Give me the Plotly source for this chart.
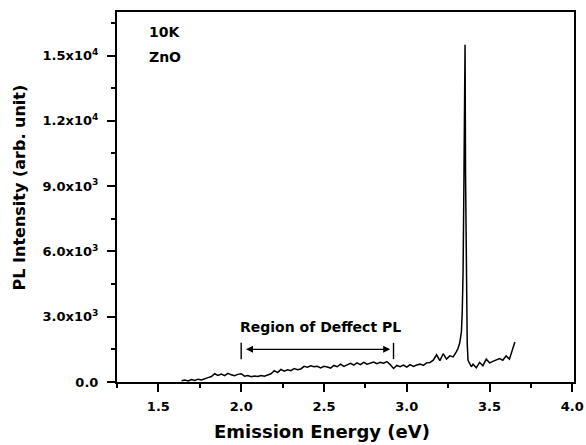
import plotly.graph_objects as go

# PL spectrum of ZnO at 10 K
energy_ev = [
    1.64, 1.66, 1.68, 1.70, 1.72, 1.74, 1.76, 1.78, 1.80, 1.82,
    1.84, 1.86, 1.88, 1.90, 1.92, 1.94, 1.96, 1.98, 2.00, 2.02,
    2.04, 2.06, 2.08, 2.10, 2.12, 2.14, 2.16, 2.18, 2.20, 2.22,
    2.24, 2.26, 2.28, 2.30, 2.32, 2.34, 2.36, 2.38, 2.40, 2.42,
    2.44, 2.46, 2.48, 2.50, 2.52, 2.54, 2.56, 2.58, 2.60, 2.62,
    2.64, 2.66, 2.68, 2.70, 2.72, 2.74, 2.76, 2.78, 2.80, 2.82,
    2.84, 2.86, 2.88, 2.90, 2.92, 2.94, 2.96, 2.98, 3.00, 3.02,
    3.04, 3.06, 3.08, 3.10, 3.12, 3.14, 3.16, 3.18, 3.20, 3.22,
    3.24, 3.26, 3.28, 3.30, 3.31, 3.32, 3.33, 3.335, 3.34, 3.345,
    3.35, 3.352, 3.355, 3.36, 3.365, 3.37, 3.38, 3.39, 3.40, 3.42,
    3.44, 3.46, 3.48, 3.50, 3.52, 3.54, 3.56, 3.58, 3.60, 3.62,
    3.64, 3.653,
]
pl_intensity = [
    60, 90, 50, 110, 70, 130, 90, 160, 200, 250,
    380, 300, 360, 290, 400, 330, 290, 350, 380, 270,
    300, 240, 280, 250, 300, 270, 340, 380, 520, 430,
    580, 500, 560, 520, 620, 560, 600, 720, 680, 740,
    700, 720, 650, 720, 690, 640, 760, 700, 820, 720,
    790, 860, 780, 880, 800, 900, 820, 880, 920, 840,
    900, 860, 940, 800, 620, 760, 700, 780, 680, 800,
    720, 780, 820, 760, 880, 900, 1000, 1250, 980, 1300,
    1050, 1200, 1150, 1400, 1550, 1800, 2300, 3200, 5000, 9000,
    14500, 15500, 9500, 4000, 1800, 1000, 850, 700, 820, 650,
    900, 750, 1050, 880, 950, 1000, 1080, 1000, 1200, 1050,
    1560, 1840,
]

# Axis ticks
y_tickvals = [0, 3000, 6000, 9000, 12000, 15000]
y_ticktext = ["0.0", "3.0x10<sup>3</sup>", "6.0x10<sup>3</sup>", "9.0x10<sup>3</sup>",
              "1.2x10<sup>4</sup>", "1.5x10<sup>4</sup>"]

# Defect emission band marker
defect_start, defect_end = 2.0, 2.92
defect_arrow_level = 1500
defect_bar_low, defect_bar_high = 1050, 1800

FONT = "DejaVu Sans, Liberation Sans, sans-serif"

fig = go.Figure()
fig.add_trace(go.Scatter(
    x=energy_ev, y=pl_intensity, mode="lines",
    line=dict(color="black", width=1.5), showlegend=False,
))

axis_common = dict(
    showline=True, linecolor="black", linewidth=2, mirror=True,
    ticks="outside", ticklen=8, tickwidth=2, tickcolor="black",
    showgrid=False, zeroline=False, automargin=False,
    tickfont=dict(family=FONT, size=13, color="black", weight="bold"),
)

fig.update_xaxes(
    **axis_common,
    range=[1.25, 4.01], tick0=1.5, dtick=0.5, tickformat=".1f",
    ticklabelstandoff=3,
    minor=dict(ticks="outside", ticklen=4, tickwidth=2, tickcolor="black",
               tick0=1.25, dtick=0.25),
)
fig.update_yaxes(
    **axis_common,
    range=[0, 17000], tickmode="array", tickvals=y_tickvals, ticktext=y_ticktext,
    ticklabelstandoff=6,
    minor=dict(ticks="outside", ticklen=4, tickwidth=2, tickcolor="black",
               tickmode="linear", tick0=0, dtick=1500),
)

# Axis titles placed as free text
fig.add_annotation(
    x=0.449, y=-0.135, xref="paper", yref="paper", xanchor="center", yanchor="middle",
    text="Emission Energy (eV)", showarrow=False,
    font=dict(family=FONT, size=18, color="black", weight="bold"),
)
fig.add_annotation(
    x=-0.2144, y=0.526, xref="paper", yref="paper", xanchor="center", yanchor="middle",
    text="PL Intensity (arb. unit)", showarrow=False, textangle=-90,
    font=dict(family=FONT, size=16, color="black", weight="bold"),
)

# Double-headed arrow spanning the defect band
fig.add_annotation(
    x=defect_end - 0.02, y=defect_arrow_level, ax=defect_start + 0.02, ay=defect_arrow_level,
    xref="x", yref="y", axref="x", ayref="y",
    showarrow=True, arrowhead=2, arrowside="end+start", arrowsize=1,
    arrowwidth=1.4, arrowcolor="black", text="",
)
for xb in (defect_start, defect_end):
    fig.add_shape(type="line", x0=xb, x1=xb, y0=defect_bar_low, y1=defect_bar_high,
                  xref="x", yref="y", line=dict(color="black", width=1.4))

fig.add_annotation(
    x=2.476, y=2550, xref="x", yref="y",
    text="Region of Deffect PL", showarrow=False,
    font=dict(family=FONT, size=14, color="black", weight="bold"),
)
for label, ypos in (("10K", 0.946), ("ZnO", 0.878)):
    fig.add_annotation(
        x=0.0656, y=ypos, xref="paper", yref="paper", xanchor="left", yanchor="middle",
        text=label, showarrow=False,
        font=dict(family=FONT, size=14, color="black", weight="bold"),
    )

fig.update_layout(
    width=586, height=445,
    margin=dict(l=117, r=12, t=12, b=63),
    plot_bgcolor="white", paper_bgcolor="white",
)

fig.write_html("out.html")
